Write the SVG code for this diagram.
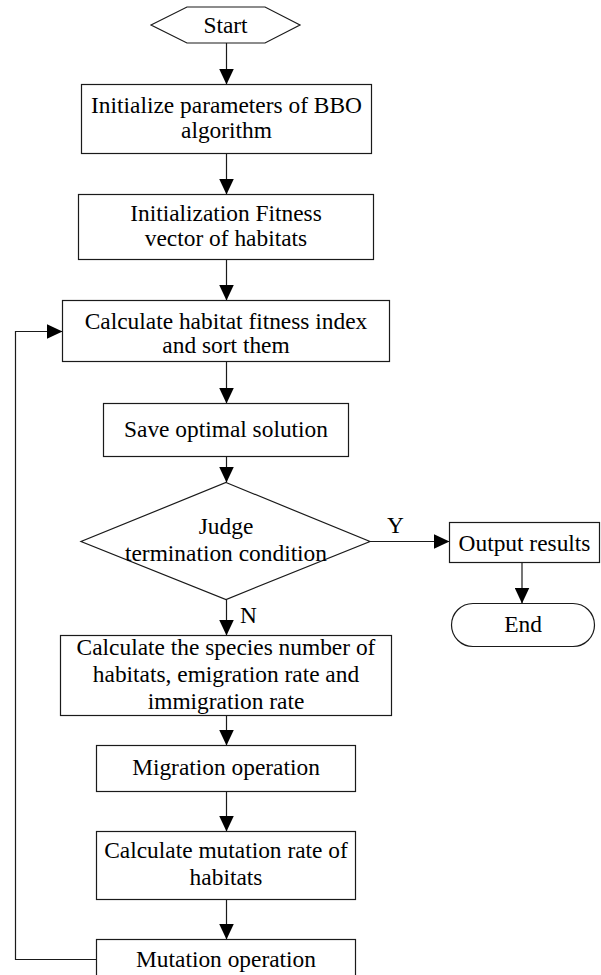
<svg xmlns="http://www.w3.org/2000/svg" width="601" height="975" viewBox="0 0 601 975">
<style>
.n{fill:#fff;stroke:#1a1a1a;stroke-width:1.2}
text{font-family:'Liberation Serif','Times New Roman',serif;font-size:23.4px;fill:#000}
.t{text-anchor:middle}
.c{fill:none;stroke:#1a1a1a;stroke-width:1.2}
</style>
<defs>
<marker id="ah" markerUnits="userSpaceOnUse" markerWidth="16" markerHeight="15" viewBox="0 0 16 15" refX="16" refY="7.5" orient="auto">
<path d="M0,0 L16,7.5 L0,15 z" fill="#000"/>
</marker>
</defs>
<rect width="601" height="975" fill="#fff"/>
<g id="connectors">
<line class="c" x1="226.5" y1="43" x2="226.5" y2="84.5" marker-end="url(#ah)"/>
<line class="c" x1="226.5" y1="153.5" x2="226.5" y2="194.5" marker-end="url(#ah)"/>
<line class="c" x1="226.5" y1="259.5" x2="226.5" y2="300.5" marker-end="url(#ah)"/>
<line class="c" x1="226.5" y1="361.5" x2="226.5" y2="403.5" marker-end="url(#ah)"/>
<line class="c" x1="226.5" y1="456.5" x2="226.5" y2="482.5" marker-end="url(#ah)"/>
<line class="c" x1="370" y1="541.5" x2="449.5" y2="541.5" marker-end="url(#ah)"/>
<line class="c" x1="522" y1="562.5" x2="522" y2="603.5" marker-end="url(#ah)"/>
<line class="c" x1="226.5" y1="599.5" x2="226.5" y2="635.5" marker-end="url(#ah)"/>
<line class="c" x1="226.5" y1="715.5" x2="226.5" y2="745.5" marker-end="url(#ah)"/>
<line class="c" x1="226.5" y1="791.5" x2="226.5" y2="831.5" marker-end="url(#ah)"/>
<line class="c" x1="226.5" y1="899.5" x2="226.5" y2="939.5" marker-end="url(#ah)"/>
<polyline class="c" points="96.5,959.5 15.5,959.5 15.5,331.5 62.5,331.5" marker-end="url(#ah)"/>
<text x="387" y="533">Y</text>
<text x="240" y="623">N</text>
</g>
<g id="start">
<polygon class="n" points="151,25 187,7 265,7 300,25 265,43 187,43"/>
<text class="t" x="225.5" y="33">Start</text>
</g>
<g id="init-params">
<rect class="n" x="81.5" y="84.5" width="290" height="69"/>
<text class="t" x="226.5" y="112.5">Initialize parameters of BBO</text>
<text class="t" x="226.5" y="137.5">algorithm</text>
</g>
<g id="init-fitness">
<rect class="n" x="78.5" y="194.5" width="295" height="65"/>
<text class="t" x="226" y="220.5">Initialization Fitness</text>
<text class="t" x="226" y="245.5">vector of habitats</text>
</g>
<g id="calc-hsi">
<rect class="n" x="62.5" y="300.5" width="327" height="61"/>
<text class="t" x="226" y="329">Calculate habitat fitness index</text>
<text class="t" x="226" y="353">and sort them</text>
</g>
<g id="save">
<rect class="n" x="103.5" y="403.5" width="245" height="53"/>
<text class="t" x="226" y="437">Save optimal solution</text>
</g>
<g id="judge">
<polygon class="n" points="226,482.5 370,541.5 226,599.5 81,541.5"/>
<text class="t" x="226" y="534">Judge</text>
<text class="t" x="226" y="560.5">termination condition</text>
</g>
<g id="output">
<rect class="n" x="449.5" y="522.5" width="150" height="40"/>
<text class="t" x="524.5" y="550.5">Output results</text>
</g>
<g id="end">
<rect class="n" x="451.5" y="603.5" width="143" height="43" rx="21.5" ry="21.5"/>
<text class="t" x="523" y="632">End</text>
</g>
<g id="calc-species">
<rect class="n" x="60.5" y="635.5" width="331" height="80"/>
<text class="t" x="226" y="655">Calculate the species number of</text>
<text class="t" x="226" y="682">habitats, emigration rate and</text>
<text class="t" x="226" y="708.5">immigration rate</text>
</g>
<g id="migration">
<rect class="n" x="96.5" y="745.5" width="259" height="46"/>
<text class="t" x="226" y="775">Migration operation</text>
</g>
<g id="calc-mutation">
<rect class="n" x="96.5" y="831.5" width="259" height="68"/>
<text class="t" x="226" y="858">Calculate mutation rate of</text>
<text class="t" x="226" y="885">habitats</text>
</g>
<g id="mutation">
<rect class="n" x="96.5" y="939.5" width="259" height="50"/>
<text class="t" x="226" y="967">Mutation operation</text>
</g>
</svg>
